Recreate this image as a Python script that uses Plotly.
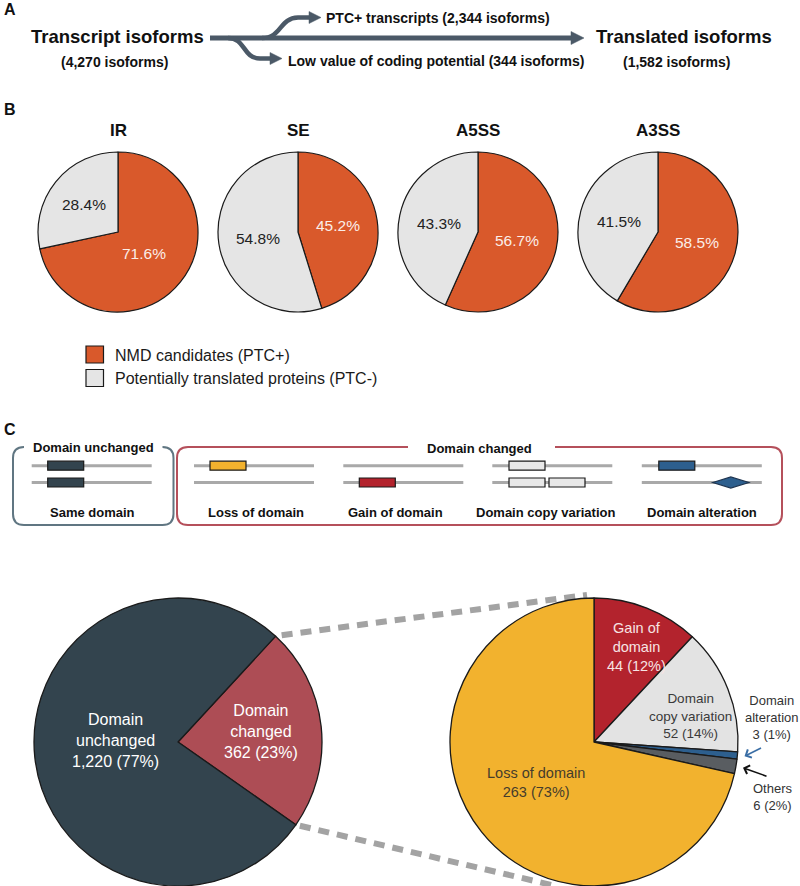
import math
import plotly.graph_objects as go

W, H = 800, 886
FONT = "Liberation Sans, Arial, Helvetica, sans-serif"

# ---------------- data ----------------
flow_nodes = ["Transcript isoforms", "Translated isoforms"]
flow_node_counts = [4270, 1582]
flow_branches = ["PTC+ transcripts", "Low value of coding potential"]
flow_branch_counts = [2344, 344]

event_types = ["IR", "SE", "A5SS", "A3SS"]
nmd_pct = [71.6, 45.2, 56.7, 58.5]
ptc_minus_pct = [28.4, 54.8, 43.3, 41.5]
status_labels = ["NMD candidates (PTC+)", "Potentially translated proteins (PTC-)"]

domain_status = ["Domain changed", "Domain unchanged"]
domain_counts = [362, 1220]
domain_pcts = [23, 77]

change_types = ["Gain of domain", "Domain copy variation", "Domain alteration", "Others", "Loss of domain"]
change_counts = [44, 52, 3, 6, 263]
change_pcts = [12, 14, 1, 2, 73]

schematic_titles = ["Same domain", "Loss of domain", "Gain of domain",
                    "Domain copy variation", "Domain alteration"]

# ---------------- style ----------------
ORANGE = "#d9592b"
LIGHT = "#e5e5e5"
DARK = "#33444e"
CHANGED = "#ad4d55"
YELLOW = "#f2b22e"
GAIN = "#b3232d"
COPY = "#e3e3e3"
ALT = "#2d5f8e"
OTHERS = "#595d61"
ARROW = "#4b5967"
EDGE = "#1a1a1a"


def dom(cx, cy, r):
    return dict(x=[(cx - r) / W, (cx + r) / W], y=[1 - (cy + r) / H, 1 - (cy - r) / H])


def mid_angles(values, rotation):
    tot = float(sum(values))
    acc, out = 0.0, []
    for v in values:
        out.append(rotation + 360.0 * (acc + v / 2.0) / tot)
        acc += v
    return out


def polar(cx, cy, r, ang):
    a = math.radians(ang)
    return cx + r * math.sin(a), cy - r * math.cos(a)


fig = go.Figure()
fig.add_trace(go.Scatter(x=[], y=[], showlegend=False, hoverinfo="skip"))

annotations = []
shapes = []


def txt(x, y, s, size, color="#111111", bold=False, xanchor="center"):
    annotations.append(dict(
        x=x, y=y, xref="x", yref="y", text=("<b>%s</b>" % s) if bold else s,
        showarrow=False, xanchor=xanchor, yanchor="middle",
        font=dict(family=FONT, size=size, color=color)))


# ---------------- panel A ----------------
txt(2, 9, "A", 16, bold=True, xanchor="left")
txt(117, 36, flow_nodes[0], 18.5, bold=True)
txt(114, 62, "(%s isoforms)" % format(flow_node_counts[0], ","), 14, bold=True)
txt(594, 36, flow_nodes[1], 18.5, bold=True, xanchor="left")
txt(676, 62, "(%s isoforms)" % format(flow_node_counts[1], ","), 14, bold=True)
txt(324, 18, "%s (%s isoforms)" % (flow_branches[0], format(flow_branch_counts[0], ",")), 14,
    bold=True, xanchor="left")
txt(286, 61, "%s (%s isoforms)" % (flow_branches[1], format(flow_branch_counts[1], ",")), 14,
    bold=True, xanchor="left")

line_a = dict(color=ARROW, width=5)
shapes.append(dict(type="path", xref="x", yref="y", path="M 210,38 L 574,38", line=line_a))
shapes.append(dict(type="path", xref="x", yref="y", path="M 571,31.5 L 584,38 L 571,44.5 Z",
                   fillcolor=ARROW, line=dict(color=ARROW, width=0.5)))
shapes.append(dict(type="path", xref="x", yref="y",
                   path="M 262,38 C 282,38 279,18 298,17.5 L 311,17.5", line=dict(color=ARROW, width=4.5)))
shapes.append(dict(type="path", xref="x", yref="y", path="M 309,11.5 L 321,17.5 L 309,23.5 Z",
                   fillcolor=ARROW, line=dict(color=ARROW, width=0.5)))
shapes.append(dict(type="path", xref="x", yref="y",
                   path="M 228,38 C 246,38 242,58 260,58.5 L 272,58.5", line=dict(color=ARROW, width=4.5)))
shapes.append(dict(type="path", xref="x", yref="y", path="M 270,52.5 L 282,58.5 L 270,64.5 Z",
                   fillcolor=ARROW, line=dict(color=ARROW, width=0.5)))

# ---------------- panel B ----------------
txt(2, 109, "B", 16, bold=True, xanchor="left")
B_CX = [118, 298, 478, 658]
B_CY = 232
B_R = 80
B_LABEL_FRAC = [[0.42, 0.55], [0.5, 0.5], [0.5, 0.5], [0.5, 0.5]]
for i, ev in enumerate(event_types):
    vals = [nmd_pct[i], ptc_minus_pct[i]]
    fig.add_trace(go.Pie(
        values=vals, labels=status_labels, sort=False, direction="clockwise", rotation=0,
        marker=dict(colors=[ORANGE, LIGHT], line=dict(color=EDGE, width=1.2)),
        textinfo="none", hoverinfo="skip", showlegend=False,
        domain=dom(B_CX[i], B_CY, B_R)))
    txt(B_CX[i], 130.5, ev, 17, bold=True)
    for j, a in enumerate(mid_angles(vals, 0)):
        px, py = polar(B_CX[i], B_CY, B_R * B_LABEL_FRAC[i][j], a)
        txt(px, py, "%.1f%%" % vals[j], 15.5, color="#fbeee8" if j == 0 else "#222222")

# legend
for k, (lab, col) in enumerate(zip(status_labels, [ORANGE, LIGHT])):
    y0 = 346 + k * 23.5
    shapes.append(dict(type="rect", xref="x", yref="y", x0=86, x1=103.5, y0=y0, y1=y0 + 17,
                       fillcolor=col, line=dict(color=EDGE, width=1.2)))
    txt(113, y0 + 9, lab, 16, color="#1a1a1a", xanchor="left")

# ---------------- panel C schematic ----------------
txt(2, 429, "C", 16, bold=True, xanchor="left")
shapes.append(dict(type="path", xref="x", yref="y",
                   path="M 24,447 Q 13,447 13,458 L 13,514 Q 13,525 24,525 L 162.5,525 "
                        "Q 173.5,525 173.5,514 L 173.5,458 Q 173.5,447 162.5,447",
                   line=dict(color="#607682", width=2)))
shapes.append(dict(type="path", xref="x", yref="y",
                   path="M 408,447 L 188,447 Q 177,447 177,458 L 177,514 Q 177,525 188,525 "
                        "L 771,525 Q 782,525 782,514 L 782,458 Q 782,447 771,447 L 555,447",
                   line=dict(color="#b5505b", width=2)))
txt(93, 447, "Domain unchanged", 13, bold=True)
txt(479, 448, "Domain changed", 13, bold=True)

ROW_Y = [465.7, 482.5]
ITEM_X = [31.7, 194, 343.3, 492.3, 641.8]
LABEL_X = [92.5, 256, 395, 545, 701.5]
for x0 in ITEM_X:
    for yy in ROW_Y:
        shapes.append(dict(type="line", xref="x", yref="y", x0=x0, x1=x0 + 120, y0=yy, y1=yy,
                           line=dict(color="#a9a9a9", width=3)))


def dbox(x0, row, col, w=36):
    yy = ROW_Y[row]
    shapes.append(dict(type="rect", xref="x", yref="y", x0=x0, x1=x0 + w, y0=yy - 4.5, y1=yy + 4.5,
                       fillcolor=col, line=dict(color=EDGE, width=1.2)))


dbox(ITEM_X[0] + 16, 0, DARK)
dbox(ITEM_X[0] + 16, 1, DARK)
dbox(ITEM_X[1] + 16, 0, YELLOW)
dbox(ITEM_X[2] + 16, 1, GAIN)
dbox(ITEM_X[3] + 16.7, 0, "#e8e8e8")
dbox(ITEM_X[3] + 16.7, 1, "#e8e8e8")
dbox(ITEM_X[3] + 56.7, 1, "#e8e8e8")
dbox(ITEM_X[4] + 17, 0, ALT)
dcx, dcy = ITEM_X[4] + 89, ROW_Y[1]
shapes.append(dict(type="path", xref="x", yref="y",
                   path="M %.1f,%.1f L %.1f,%.1f L %.1f,%.1f L %.1f,%.1f Z" % (
                       dcx - 18, dcy, dcx, dcy - 5.5, dcx + 18, dcy, dcx, dcy + 5.5),
                   fillcolor=ALT, line=dict(color="#1f3550", width=1.2)))
for lx, t in zip(LABEL_X, schematic_titles):
    txt(lx, 512, t, 13, bold=True)

# ---------------- panel C pies ----------------
L_CX, R_CX, P_CY, P_R = 178, 594, 742, 144
L_ROT = 42.7

# zoom connector lines (from the changed wedge edges to the right pie)
a1 = L_ROT
a2 = L_ROT + 360.0 * domain_counts[0] / sum(domain_counts)
ux, uy = polar(L_CX, P_CY, P_R, a1)
lx_, ly_ = polar(L_CX, P_CY, P_R, a2)
dash_line = dict(color="#a3a3a3", width=6, dash="11px,8px")
shapes.append(dict(type="line", xref="x", yref="y", x0=ux + 6, y0=uy - 1, x1=587, y1=595,
                   line=dash_line, layer="below"))
shapes.append(dict(type="line", xref="x", yref="y", x0=lx_ + 4, y0=ly_ + 1, x1=556, y1=886,
                   line=dash_line, layer="below"))

fig.add_trace(go.Pie(
    values=domain_counts, labels=domain_status, sort=False, direction="clockwise", rotation=L_ROT,
    marker=dict(colors=[CHANGED, DARK], line=dict(color=EDGE, width=1.3)),
    textinfo="none", hoverinfo="skip", showlegend=False, domain=dom(L_CX, P_CY, P_R)))
fig.add_trace(go.Pie(
    values=change_counts, labels=change_types, sort=False, direction="clockwise", rotation=0,
    marker=dict(colors=[GAIN, COPY, ALT, OTHERS, YELLOW], line=dict(color=EDGE, width=1.3)),
    textinfo="none", hoverinfo="skip", showlegend=False, domain=dom(R_CX, P_CY, P_R)))

left_disp = ["Domain<br>changed", "Domain<br>unchanged"]
left_pos = [(261, 731), (115, 740)]
for name, (x, y), c, p in zip(left_disp, left_pos, domain_counts, domain_pcts):
    txt(x, y, "%s<br>%s (%d%%)" % (name, format(c, ","), p), 16, color="#ffffff")

right_disp = ["Gain of<br>domain", "Domain<br>copy variation", "Domain<br>alteration", "Others",
              "Loss of domain"]
right_pos = [(636, 647), (690, 716), (771, 717), (773, 797), (536, 782)]
right_col = ["#f7e4e4", "#3a3a3a", "#333333", "#333333", "#453c2c"]
right_size = [14.5, 13.5, 13, 13, 14.5]
for k in range(len(change_types)):
    x, y = right_pos[k]
    txt(x, y, "%s<br>%s (%d%%)" % (right_disp[k], format(change_counts[k], ","), change_pcts[k]),
        right_size[k], color=right_col[k])

# arrows pointing at the two thin slices
r_mids = mid_angles(change_counts, 0)
for k, (dx, dy, col) in zip([2, 3], [(18, -9, "#3a6ea5"), (25, 9, "#111111")]):
    tx, ty = polar(R_CX, P_CY, P_R * 1.05, r_mids[k])
    annotations.append(dict(x=tx, y=ty, xref="x", yref="y", ax=dx, ay=dy, text="",
                            showarrow=True, arrowhead=4, arrowsize=1.1, arrowwidth=1.6,
                            arrowcolor=col))

fig.update_layout(
    width=W, height=H, margin=dict(l=0, r=0, t=0, b=0),
    paper_bgcolor="white", plot_bgcolor="rgba(0,0,0,0)", showlegend=False,
    xaxis=dict(range=[0, W], visible=False, fixedrange=True),
    yaxis=dict(range=[H, 0], visible=False, fixedrange=True),
    shapes=shapes, annotations=annotations,
    font=dict(family=FONT),
)
fig.write_html("out.html", config={"displayModeBar": False},
               post_script="document.body.style.margin='0px';")
